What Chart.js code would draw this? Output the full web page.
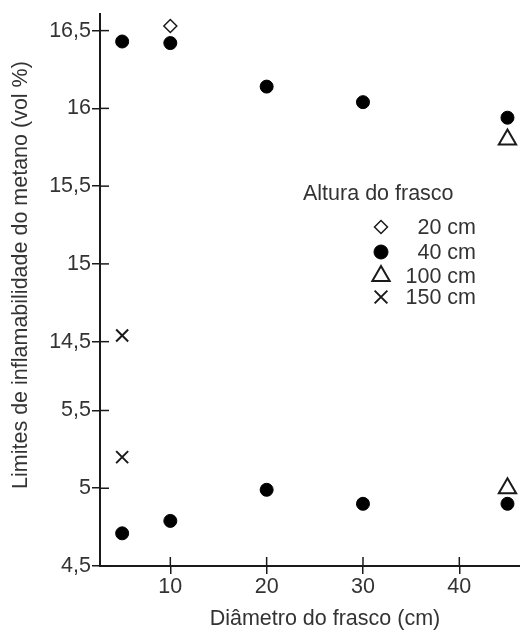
<!DOCTYPE html>
<html>
<head>
<meta charset="utf-8">
<script src="https://cdn.jsdelivr.net/npm/chart.js@4"></script>
<style>
html, body { margin: 0; padding: 0; background: #fff; overflow: hidden; }
</style>
</head>
<body>
<canvas id="chart" width="520" height="633"></canvas>
<script>
// Chart data (broken y axis: lower band 4,5-5,5 and upper band 14,5-16,5)
const xTicks = [10, 20, 30, 40];
const yTickValues = [4.5, 5, 5.5, 14.5, 15, 15.5, 16, 16.5];
const yTickLabels = ['4,5', '5', '5,5', '14,5', '15', '15,5', '16', '16,5'];

const seriesLabels = ['20 cm', '40 cm', '100 cm', '150 cm'];
const x20 = [10];
const y20 = [16.53];
const x40 = [5, 10, 20, 30, 45, 5, 10, 20, 30, 45];
const y40 = [16.43, 16.42, 16.14, 16.04, 15.94, 4.71, 4.79, 4.99, 4.90, 4.90];
const x100 = [45, 45];
const y100 = [15.80, 5.0];
const x150 = [5, 5];
const y150 = [14.54, 5.2];

// map a real value onto the continuous axis (one unit per 0,5)
const GAP = 2.885;
function toAxis(v) {
    return v < 10 ? (v - 4.5) * 2 : GAP + (v - 14.5) * 2;
}
function pts(xs, ys) {
    return xs.map((x, i) => ({ x: x, y: toAxis(ys[i]) }));
}

const FONT = '"Liberation Sans", Arial, sans-serif';
const FS = 21.5;
Chart.defaults.font.family = FONT;
Chart.defaults.color = '#333';

const ink = '#1a1a1a';
const TICK = 8;

// tick marks crossing into the plot area
const innerTicks = {
    id: 'innerTicks',
    afterDraw(chart) {
        const ctx = chart.ctx;
        const area = chart.chartArea;
        ctx.save();
        ctx.strokeStyle = ink;
        ctx.lineWidth = 1.5;
        chart.scales.x.ticks.forEach(t => {
            const px = chart.scales.x.getPixelForValue(t.value);
            ctx.beginPath();
            ctx.moveTo(px, area.bottom);
            ctx.lineTo(px, area.bottom - TICK - 1);
            ctx.stroke();
        });
        chart.scales.y.ticks.forEach(t => {
            const py = chart.scales.y.getPixelForValue(t.value);
            ctx.beginPath();
            ctx.moveTo(area.left, py);
            ctx.lineTo(area.left + TICK + 1, py);
            ctx.stroke();
        });
        ctx.restore();
    }
};

// legend box inside the plot, as in the original figure
const plotLegend = {
    id: 'plotLegend',
    afterDraw(chart) {
        const ctx = chart.ctx;
        ctx.save();
        ctx.fillStyle = '#333';
        ctx.font = FS + 'px ' + FONT;
        ctx.textBaseline = 'middle';
        ctx.textAlign = 'left';
        ctx.fillText('Altura do frasco', 303, 194);
        const rows = [227, 252, 276, 297];
        ctx.textAlign = 'right';
        chart.data.datasets.forEach((ds, i) => {
            ctx.fillText(ds.label, 476, rows[i] + 1);
            ctx.strokeStyle = ds.borderColor;
            ctx.fillStyle = ds.backgroundColor;
            ctx.lineWidth = ds.borderWidth;
            Chart.helpers.drawPoint(ctx, {
                pointStyle: ds.pointStyle,
                radius: ds.legendRadius,
                borderWidth: ds.borderWidth,
                rotation: 0
            }, 381, rows[i]);
            ctx.fillStyle = '#333';
        });
        ctx.restore();
    }
};

new Chart(document.getElementById('chart'), {
    type: 'scatter',
    data: {
        datasets: [{
            label: seriesLabels[0],
            data: pts(x20, y20),
            pointStyle: 'rectRot',
            pointRadius: 6.5,
            legendRadius: 6.5,
            backgroundColor: '#fff',
            borderColor: ink,
            borderWidth: 1.5
        }, {
            label: seriesLabels[1],
            data: pts(x40, y40),
            pointStyle: 'circle',
            pointRadius: 6.5,
            legendRadius: 7,
            backgroundColor: '#000',
            borderColor: '#000',
            borderWidth: 1
        }, {
            label: seriesLabels[2],
            data: pts(x100, y100),
            pointStyle: 'triangle',
            pointRadius: 10,
            legendRadius: 10,
            backgroundColor: '#fff',
            borderColor: ink,
            borderWidth: 2
        }, {
            label: seriesLabels[3],
            data: pts(x150, y150),
            pointStyle: 'crossRot',
            pointRadius: 8.5,
            legendRadius: 9,
            backgroundColor: '#fff',
            borderColor: ink,
            borderWidth: 2
        }]
    },
    options: {
        responsive: false,
        animation: false,
        layout: { autoPadding: false, padding: { top: 12, right: 0, left: 0, bottom: 0 } },
        plugins: {
            legend: { display: false },
            tooltip: { enabled: false }
        },
        scales: {
            x: {
                type: 'linear',
                min: 2.7,
                max: 46.3,
                afterBuildTicks: scale => {
                    scale.ticks = xTicks.map(v => ({ value: v }));
                },
                afterFit: scale => { scale.height = 67; },
                ticks: {
                    font: { size: FS },
                    color: '#333',
                    padding: 0,
                    maxRotation: 0,
                    callback: v => String(v)
                },
                grid: {
                    display: true,
                    drawOnChartArea: false,
                    drawTicks: true,
                    tickLength: TICK,
                    color: ink,
                    lineWidth: 1.5
                },
                border: { display: true, color: ink, width: 2 },
                title: {
                    display: true,
                    text: '     Diâmetro do frasco (cm)',
                    font: { size: FS },
                    color: '#333',
                    padding: { top: 0, bottom: 1 }
                }
            },
            y: {
                type: 'linear',
                min: 0,
                max: 7.1,
                afterBuildTicks: scale => {
                    scale.ticks = yTickValues.map(v => ({ value: toAxis(v) }));
                },
                afterFit: scale => { scale.width = 100; },
                ticks: {
                    font: { size: FS },
                    color: '#333',
                    padding: 1,
                    callback: (v, i) => yTickLabels[i]
                },
                grid: {
                    display: true,
                    drawOnChartArea: false,
                    drawTicks: true,
                    tickLength: TICK,
                    color: ink,
                    lineWidth: 1.5
                },
                border: { display: true, color: ink, width: 2 },
                title: {
                    display: true,
                    text: '     Limites de inflamabilidade do metano (vol %)',
                    font: { size: FS },
                    color: '#333',
                    padding: { top: 8, bottom: 0 }
                }
            }
        }
    },
    plugins: [innerTicks, plotLegend]
});
</script>
</body>
</html>
